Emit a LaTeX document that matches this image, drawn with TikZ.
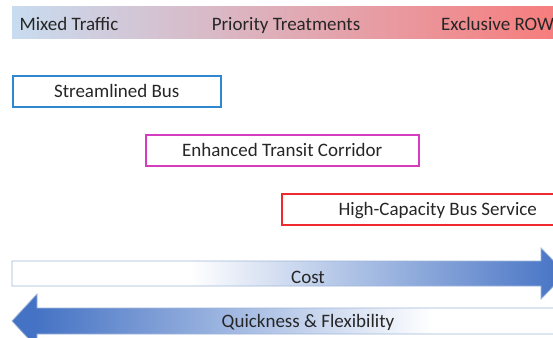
\documentclass[tikz,border=0pt]{standalone}
\usepackage{fontspec}
\setmainfont{Carlito}
\usetikzlibrary{positioning, calc}

\definecolor{txtgrey}{HTML}{262626}
\definecolor{barblue}{HTML}{C8DCF0}
\definecolor{barpink}{HTML}{EBA3AE}
\definecolor{barred}{HTML}{F77C7C}
\definecolor{sbblue}{HTML}{2F87D0}
\definecolor{etcpink}{HTML}{D63CBE}
\definecolor{hcred}{HTML}{EE2A2E}
\definecolor{arrowblue}{HTML}{4472C4}
\definecolor{arrowedge}{HTML}{9FB6DA}

\pgfdeclarehorizontalshading{costshade}{100bp}{color(0bp)=(white); color(41bp)=(white); color(75bp)=(arrowblue); color(100bp)=(arrowblue)}
\pgfdeclarehorizontalshading{quickshade}{100bp}{color(0bp)=(arrowblue); color(27bp)=(arrowblue); color(62bp)=(white); color(100bp)=(white)}

\begin{document}
\begin{tikzpicture}[x=1pt, y=-1pt, font=\fontsize{19}{22}\selectfont, text=txtgrey,
		modebox/.style={draw, line width=1.5pt, rectangle, minimum height=31pt, text height=14pt, text depth=2pt, anchor=north west, inner sep=0pt},
		bartext/.style={anchor=base, inner sep=0pt}]
		\useasboundingbox (0, 0) rectangle (553, 337);
		\clip (0, 0) rectangle (553, 337);

		% top scale
		\shade[left color=barblue, middle color=barpink, right color=barred] (12, 7) rectangle (560, 39);
		\node[bartext] (mixed) at (69, 30.5) {Mixed Traffic};
		\node[bartext] (priority) at (286, 30.5) {Priority Treatments};
		\node[bartext, anchor=base west] (exclusive) at (441, 30.5) {Exclusive ROW};

		% service types
		\node[modebox, draw=sbblue, minimum width=208pt] (sb) at (12, 75) {Streamlined Bus};
		\node[modebox, draw=etcpink, minimum width=273pt] (etc) at (145, 134) {Enhanced Transit Corridor};
		\node[modebox, draw=hcred, minimum width=312pt] (hc) at (281, 193) {High-Capacity Bus Service};

		% arrows
		\shade[shading=costshade, draw=arrowedge, line width=0.8pt] (12, 261) -- (541, 261) -- (541, 248) -- (566, 273.5) -- (541, 299) -- (541, 286) -- (12, 286) -- cycle;
		\node[bartext] (cost) at (308, 283) {Cost};
		\shade[shading=quickshade, draw=arrowedge, line width=0.8pt] (580, 308) -- (37, 308) -- (37, 294) -- (12, 321) -- (37, 348) -- (37, 334) -- (580, 334) -- cycle;
		\node[bartext] (quick) at (308, 327) {Quickness \& Flexibility};
	\end{tikzpicture}
\end{document}
